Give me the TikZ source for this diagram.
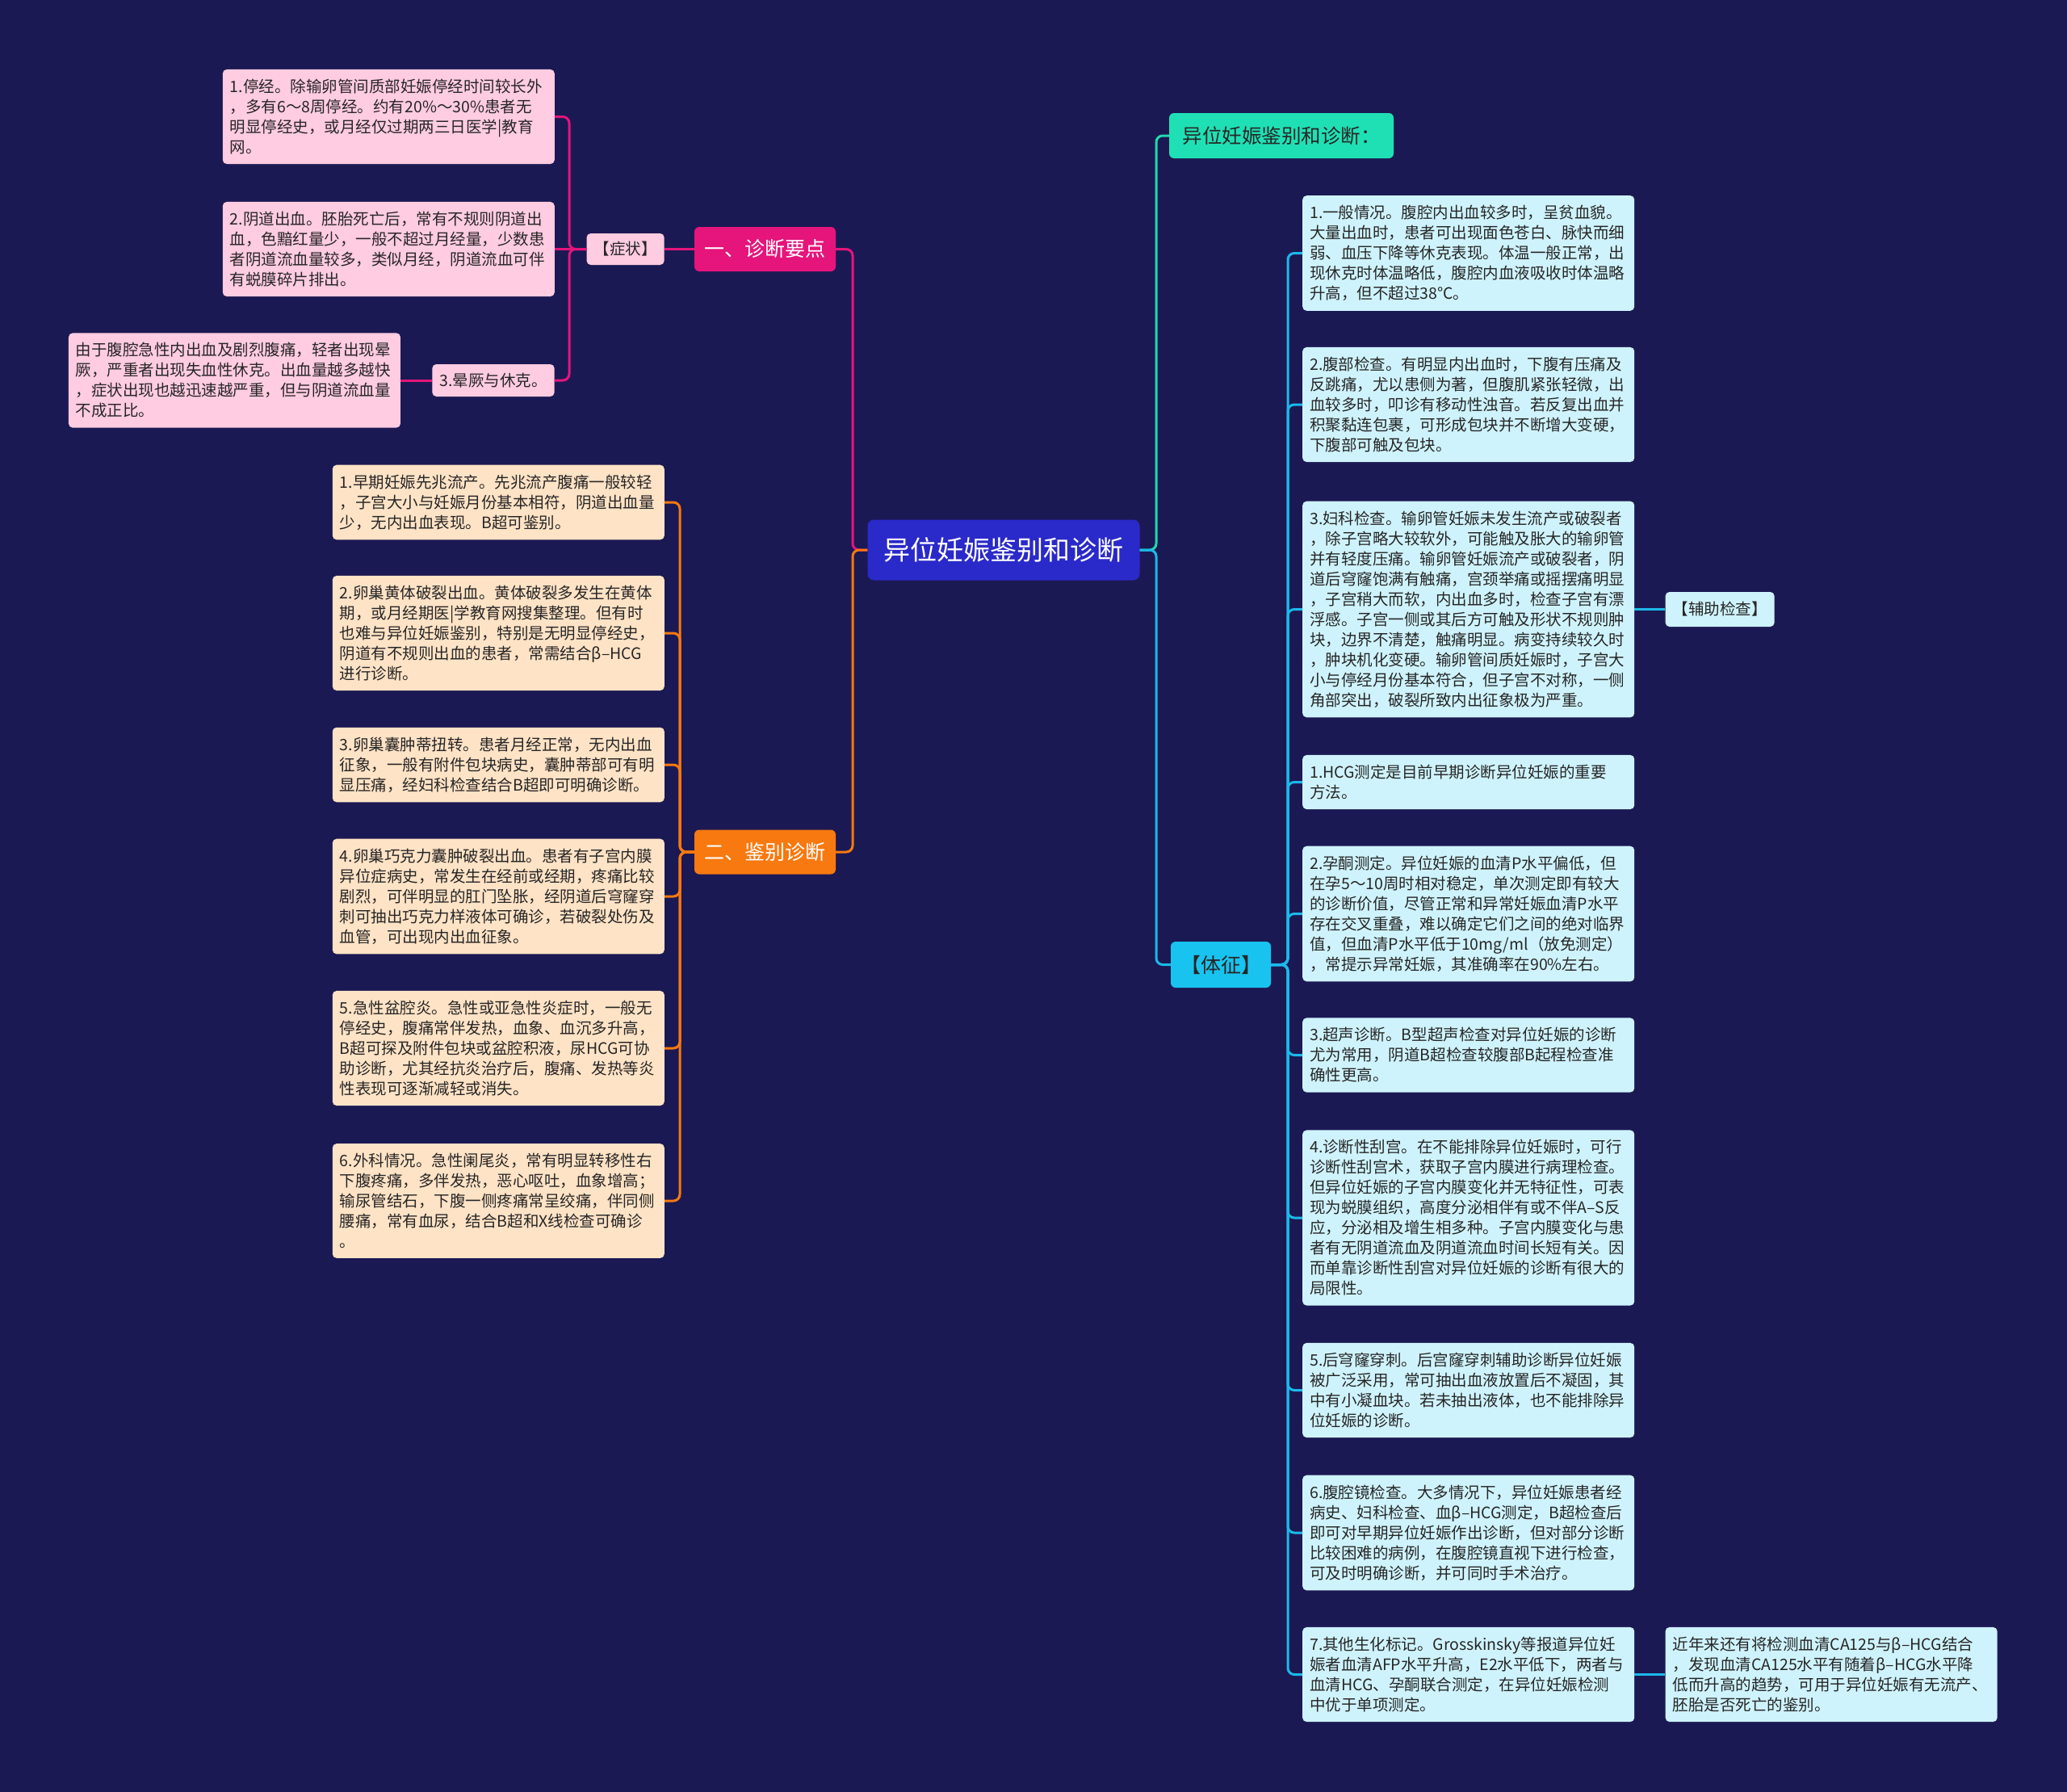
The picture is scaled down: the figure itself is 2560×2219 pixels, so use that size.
\documentclass[tikz,border=0pt]{standalone}
\usepackage{fontspec}
\setmainfont{Noto Sans CJK SC}
\usetikzlibrary{positioning}

\definecolor{bgnavy}{HTML}{1B1953}
\definecolor{rootblue}{HTML}{2A29C9}
\definecolor{magline}{HTML}{E5157B}
\definecolor{orline}{HTML}{F7790F}
\definecolor{mintline}{HTML}{22D9AE}
\definecolor{cyanline}{HTML}{1CB9EA}
\definecolor{pinkfill}{HTML}{FFCCE1}
\definecolor{peachfill}{HTML}{FFE3C6}
\definecolor{cyanfill}{HTML}{CFF3FC}
\definecolor{mintfill}{HTML}{1FE0B4}
\definecolor{cyantopic}{HTML}{19C3F0}
\definecolor{inkdark}{HTML}{262626}

\begin{document}
\begin{tikzpicture}[
    x=1pt, y=-1pt,
    rootnode/.style={fill=rootblue, rounded corners=8pt, text=white, font=\fontsize{33}{40}\selectfont, minimum width=337pt, minimum height=75pt, inner sep=0pt},
    topic/.style={rounded corners=6pt, text=white, font=\fontsize{25}{30}\selectfont, minimum width=175pt, minimum height=55pt, inner sep=0pt},
    tag/.style={rounded corners=5pt, text=inkdark, font=\fontsize{19.5}{25}\selectfont, minimum height=40pt, inner xsep=9pt, inner ysep=0pt},
    textbox/.style={rounded corners=5pt, text=inkdark, font=\fontsize{19.5}{25}\selectfont, text width=393pt, align=left, inner xsep=9pt, inner ysep=12pt},
    pinkbox/.style={textbox, fill=pinkfill},
    peachbox/.style={textbox, fill=peachfill},
    cyanbox/.style={textbox, fill=cyanfill},
    link/.style={line width=3pt, rounded corners=8pt}
]
\useasboundingbox (0,0) rectangle (2560,2219);
\fill[bgnavy] (0,0) rectangle (2560,2219);

\coordinate (lbus) at (1056,0);
\coordinate (zbus) at (705,0);
\coordinate (obus) at (842,0);
\coordinate (rbus) at (1432,0);
\coordinate (tbus) at (1595,0);

\node[rootnode] (root) at (1243,681) {异位妊娠鉴别和诊断};

\node[topic, fill=magline] (zd) at (947.5,308.5) {一、诊断要点};
\node[topic, fill=orline] (jb) at (947.5,1055) {二、鉴别诊断};
\node[tag, fill=pinkfill, minimum height=39pt, left=37pt of zd] (zz) {【症状】};

\node[pinkbox, anchor=east] (p1) at (687,144.5) {1.停经。除输卵管间质部妊娠停经时间较长外\\，多有6～8周停经。约有20\%～30\%患者无\\明显停经史，或月经仅过期两三日医学|教育\\网。};
\node[pinkbox, anchor=east] (p2) at (687,308.5) {2.阴道出血。胚胎死亡后，常有不规则阴道出\\血，色黯红量少，一般不超过月经量，少数患\\者阴道流血量较多，类似月经，阴道流血可伴\\有蜕膜碎片排出。};
\node[tag, fill=pinkfill] (hy) at (611,471) {3.晕厥与休克。};
\node[pinkbox, left=39pt of hy] (yu) {由于腹腔急性内出血及剧烈腹痛，轻者出现晕\\厥，严重者出现失血性休克。出血量越多越快\\，症状出现也越迅速越严重，但与阴道流血量\\不成正比。};

\node[peachbox, anchor=east] (o1) at (823,622) {1.早期妊娠先兆流产。先兆流产腹痛一般较轻\\，子宫大小与妊娠月份基本相符，阴道出血量\\少，无内出血表现。B超可鉴别。};
\node[peachbox, anchor=east] (o2) at (823,784) {2.卵巢黄体破裂出血。黄体破裂多发生在黄体\\期，或月经期医|学教育网搜集整理。但有时\\也难与异位妊娠鉴别，特别是无明显停经史，\\阴道有不规则出血的患者，常需结合β–HCG\\进行诊断。};
\node[peachbox, anchor=east] (o3) at (823,947) {3.卵巢囊肿蒂扭转。患者月经正常，无内出血\\征象，一般有附件包块病史，囊肿蒂部可有明\\显压痛，经妇科检查结合B超即可明确诊断。};
\node[peachbox, anchor=east] (o4) at (823,1110) {4.卵巢巧克力囊肿破裂出血。患者有子宫内膜\\异位症病史，常发生在经前或经期，疼痛比较\\剧烈，可伴明显的肛门坠胀，经阴道后穹窿穿\\刺可抽出巧克力样液体可确诊，若破裂处伤及\\血管，可出现内出血征象。};
\node[peachbox, anchor=east] (o5) at (823,1298) {5.急性盆腔炎。急性或亚急性炎症时，一般无\\停经史，腹痛常伴发热，血象、血沉多升高，\\B超可探及附件包块或盆腔积液，尿HCG可协\\助诊断，尤其经抗炎治疗后，腹痛、发热等炎\\性表现可逐渐减轻或消失。};
\node[peachbox, anchor=east] (o6) at (823,1487) {6.外科情况。急性阑尾炎，常有明显转移性右\\下腹疼痛，多伴发热，恶心呕吐，血象增高；\\输尿管结石，下腹一侧疼痛常呈绞痛，伴同侧\\腰痛，常有血尿，结合B超和X线检查可确诊\\。};

\node[topic, fill=mintfill, text=inkdark, font=\fontsize{24.5}{30}\selectfont, minimum width=278pt, minimum height=56pt] (yw) at (1587,168) {异位妊娠鉴别和诊断：};
\node[topic, fill=cyantopic, text=inkdark, minimum width=124pt, minimum height=57pt] (tz) at (1512,1194.5) {【体征】};

\node[cyanbox, anchor=west] (c1) at (1613,313.5) {1.一般情况。腹腔内出血较多时，呈贫血貌。\\大量出血时，患者可出现面色苍白、脉快而细\\弱、血压下降等休克表现。体温一般正常，出\\现休克时体温略低，腹腔内血液吸收时体温略\\升高，但不超过38℃。};
\node[cyanbox, anchor=west] (c2) at (1613,501) {2.腹部检查。有明显内出血时，下腹有压痛及\\反跳痛，尤以患侧为著，但腹肌紧张轻微，出\\血较多时，叩诊有移动性浊音。若反复出血并\\积聚黏连包裹，可形成包块并不断增大变硬，\\下腹部可触及包块。};
\node[cyanbox, anchor=west] (c3) at (1613,754.5) {3.妇科检查。输卵管妊娠未发生流产或破裂者\\，除子宫略大较软外，可能触及胀大的输卵管\\并有轻度压痛。输卵管妊娠流产或破裂者，阴\\道后穹窿饱满有触痛，宫颈举痛或摇摆痛明显\\，子宫稍大而软，内出血多时，检查子宫有漂\\浮感。子宫一侧或其后方可触及形状不规则肿\\块，边界不清楚，触痛明显。病变持续较久时\\，肿块机化变硬。输卵管间质妊娠时，子宫大\\小与停经月份基本符合，但子宫不对称，一侧\\角部突出，破裂所致内出征象极为严重。};
\node[tag, fill=cyanfill, minimum height=43pt, right=38pt of c3] (fz) {【辅助检查】};
\node[cyanbox, anchor=west] (c4) at (1613,968.5) {1.HCG测定是目前早期诊断异位妊娠的重要\\方法。};
\node[cyanbox, anchor=west] (c5) at (1613,1131.5) {2.孕酮测定。异位妊娠的血清P水平偏低，但\\在孕5～10周时相对稳定，单次测定即有较大\\的诊断价值，尽管正常和异常妊娠血清P水平\\存在交叉重叠，难以确定它们之间的绝对临界\\值，但血清P水平低于10mg/ml（放免测定）\\，常提示异常妊娠，其准确率在90\%左右。};
\node[cyanbox, anchor=west] (c6) at (1613,1306.5) {3.超声诊断。B型超声检查对异位妊娠的诊断\\尤为常用，阴道B超检查较腹部B起程检查准\\确性更高。};
\node[cyanbox, anchor=west] (c7) at (1613,1508) {4.诊断性刮宫。在不能排除异位妊娠时，可行\\诊断性刮宫术，获取子宫内膜进行病理检查。\\但异位妊娠的子宫内膜变化并无特征性，可表\\现为蜕膜组织，高度分泌相伴有或不伴A–S反\\应，分泌相及增生相多种。子宫内膜变化与患\\者有无阴道流血及阴道流血时间长短有关。因\\而单靠诊断性刮宫对异位妊娠的诊断有很大的\\局限性。};
\node[cyanbox, anchor=west] (c8) at (1613,1721.5) {5.后穹窿穿刺。后宫窿穿刺辅助诊断异位妊娠\\被广泛采用，常可抽出血液放置后不凝固，其\\中有小凝血块。若未抽出液体，也不能排除异\\位妊娠的诊断。};
\node[cyanbox, anchor=west] (c9) at (1613,1898) {6.腹腔镜检查。大多情况下，异位妊娠患者经\\病史、妇科检查、血β–HCG测定，B超检查后\\即可对早期异位妊娠作出诊断，但对部分诊断\\比较困难的病例，在腹腔镜直视下进行检查，\\可及时明确诊断，并可同时手术治疗。};
\node[cyanbox, anchor=west] (c10) at (1613,2073.5) {7.其他生化标记。Grosskinsky等报道异位妊\\娠者血清AFP水平升高，E2水平低下，两者与\\血清HCG、孕酮联合测定，在异位妊娠检测\\中优于单项测定。};
\node[cyanbox, right=38pt of c10] (jn) {近年来还有将检测血清CA125与β–HCG结合\\，发现血清CA125水平有随着β–HCG水平降\\低而升高的趋势，可用于异位妊娠有无流产、\\胚胎是否死亡的鉴别。};

\draw[link, draw=magline] (root.west) -| (lbus |- zd.east) -- (zd.east);
\draw[link, draw=orline] (root.west) -| (lbus |- jb.east) -- (jb.east);
\draw[link, draw=magline] (zd.west) -- (zz.east);
\draw[link, draw=magline] (zz.west) -| (zbus |- p1.east) -- (p1.east);
\draw[link, draw=magline] (zz.west) -- (p2.east);
\draw[link, draw=magline] (zz.west) -| (zbus |- hy.east) -- (hy.east);
\draw[link, draw=magline] (hy.west) -- (yu.east);

\draw[link, draw=orline] (jb.west) -| (obus |- o1.east) -- (o1.east);
\draw[link, draw=orline] (jb.west) -| (obus |- o2.east) -- (o2.east);
\draw[link, draw=orline] (jb.west) -| (obus |- o3.east) -- (o3.east);
\draw[link, draw=orline] (jb.west) -| (obus |- o4.east) -- (o4.east);
\draw[link, draw=orline] (jb.west) -| (obus |- o5.east) -- (o5.east);
\draw[link, draw=orline] (jb.west) -| (obus |- o6.east) -- (o6.east);

\draw[link, draw=mintline] (root.east) -| (rbus |- yw.west) -- (yw.west);
\draw[link, draw=cyanline] (root.east) -| (rbus |- tz.west) -- (tz.west);
\draw[link, draw=cyanline] (tz.east) -| (tbus |- c1.west) -- (c1.west);
\draw[link, draw=cyanline] (tz.east) -| (tbus |- c2.west) -- (c2.west);
\draw[link, draw=cyanline] (tz.east) -| (tbus |- c3.west) -- (c3.west);
\draw[link, draw=cyanline] (tz.east) -| (tbus |- c4.west) -- (c4.west);
\draw[link, draw=cyanline] (tz.east) -| (tbus |- c5.west) -- (c5.west);
\draw[link, draw=cyanline] (tz.east) -| (tbus |- c6.west) -- (c6.west);
\draw[link, draw=cyanline] (tz.east) -| (tbus |- c7.west) -- (c7.west);
\draw[link, draw=cyanline] (tz.east) -| (tbus |- c8.west) -- (c8.west);
\draw[link, draw=cyanline] (tz.east) -| (tbus |- c9.west) -- (c9.west);
\draw[link, draw=cyanline] (tz.east) -| (tbus |- c10.west) -- (c10.west);
\draw[link, draw=cyanline] (c3.east) -- (fz.west);
\draw[link, draw=cyanline] (c10.east) -- (jn.west);
\end{tikzpicture}
\end{document}
